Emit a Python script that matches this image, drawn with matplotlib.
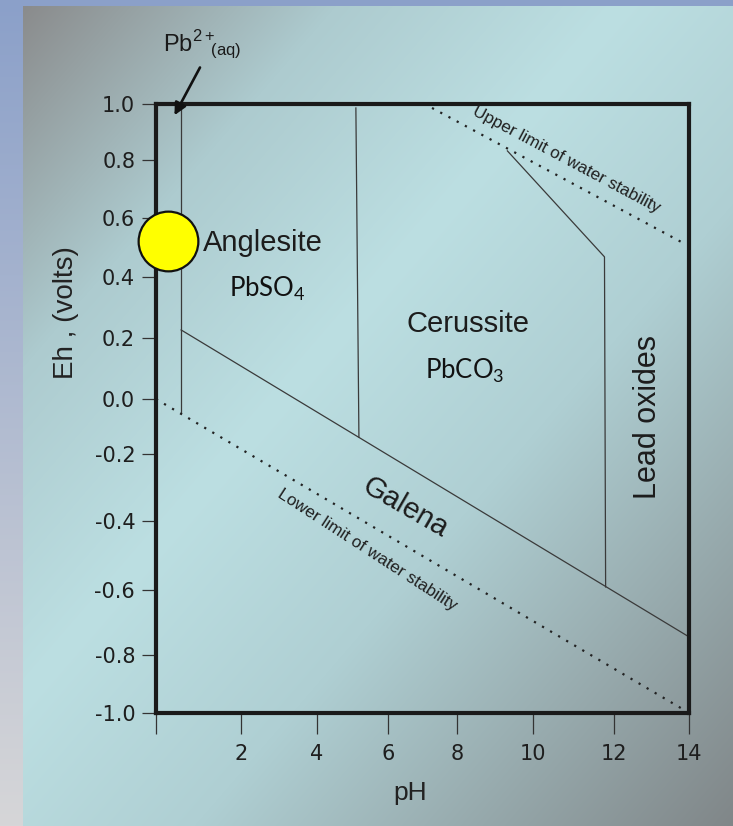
import numpy as np
import matplotlib
matplotlib.use("Agg")
import matplotlib.pyplot as plt

# ---------------- data (pH / Eh) ----------------
ph_tick_pos = [0.0, 2.24, 4.22, 6.09, 7.91, 9.89, 12.02, 14.0]
ph_tick_labels = ["", "2", "4", "6", "8", "10", "12", "14"]
eh_tick_pos = [1.0, 0.816, 0.626, 0.432, 0.232, 0.031, -0.149, -0.369, -0.596, -0.810, -1.0]
eh_tick_labels = ["1.0", "0.8", "0.6", "0.4", "0.2", "0.0", "-0.2", "-0.4", "-0.6", "-0.8", "-1.0"]

pb_anglesite_ph = [0.66, 0.66]
pb_anglesite_eh = [1.0, -0.01]
galena_top_ph = [0.66, 14.0]
galena_top_eh = [0.258, -0.750]
anglesite_cerussite_ph = [5.25, 5.33]
anglesite_cerussite_eh = [0.987, -0.094]
cerussite_oxides_ph = [9.23, 11.78, 11.81]
cerussite_oxides_eh = [0.846, 0.498, -0.586]
upper_water_ph = [7.25, 13.84]
upper_water_eh = [0.987, 0.544]
lower_water_ph = [0.0, 13.79]
lower_water_eh = [0.031, -0.984]

marker_ph, marker_eh = 0.32, 0.55

# ---------------- figure & background ----------------
W, H = 733, 826
fig = plt.figure(figsize=(W / 100, H / 100), dpi=100)

bg = np.zeros((H, W, 3))
yy, xx = np.mgrid[0:H, 0:W]
t = yy / (H - 1)
blue = np.array([0x8b, 0xa0, 0xc9]) / 255
grey = np.array([0xd6, 0xd6, 0xd8]) / 255
bg[:] = blue[None, None, :] * (1 - t[..., None]) + grey[None, None, :] * t[..., None]
px0, py0 = 23, 6
u = ((xx - px0) / (W - px0) + (yy - py0) / (H - py0)) / 2
stops_u = [0.0, 0.22, 0.42, 0.62, 1.0]
stops_c = np.array([[0x8a, 0x8b, 0x8c], [0xad, 0xcb, 0xcf], [0xbc, 0xdf, 0xe2],
                    [0xaf, 0xcf, 0xd3], [0x80, 0x86, 0x88]]) / 255
panel = np.stack([np.interp(u, stops_u, stops_c[:, k]) for k in range(3)], axis=-1)
mask = (xx >= px0) & (yy >= py0)
bg[mask] = panel[mask]
bax = fig.add_axes([0, 0, 1, 1], zorder=-10)
bax.imshow(bg, aspect="auto", interpolation="bilinear")
bax.axis("off")

# ---------------- main axes ----------------
left, right, top, bottom = 156, 689, 104, 713
ax = fig.add_axes([left / W, 1 - bottom / H, (right - left) / W, (bottom - top) / H])
ax.set_facecolor("none")
ax.set_xlim(0, 14)
ax.set_ylim(-1, 1)
for s in ax.spines.values():
    s.set_linewidth(3)
    s.set_color("#1a1a1a")

tickfont = dict(family="DejaVu Sans", size=15, color="#1e1e1e")
ax.set_xticks(ph_tick_pos)
ax.set_xticklabels(ph_tick_labels, **tickfont)
ax.set_yticks(eh_tick_pos)
ax.set_yticklabels(eh_tick_labels, **tickfont)
ax.tick_params(axis="x", direction="out", length=15, width=0.9, color="#333", pad=7)
ax.tick_params(axis="y", direction="out", length=10, width=0.9, color="#333", pad=5)

ax.set_xlabel("pH", family="Liberation Sans", fontsize=19, color="#222")
ax.xaxis.set_label_coords(0.477, -0.112)
ax.set_ylabel("Eh , (volts)", family="Liberation Sans", fontsize=20, color="#222")
ax.yaxis.set_label_coords(-0.145, 0.658)

lc = "#3a3a3a"
ax.plot(pb_anglesite_ph, pb_anglesite_eh, color=lc, lw=0.9)
ax.plot(galena_top_ph, galena_top_eh, color=lc, lw=0.9)
ax.plot(anglesite_cerussite_ph, anglesite_cerussite_eh, color=lc, lw=0.9)
ax.plot(cerussite_oxides_ph, cerussite_oxides_eh, color=lc, lw=0.9)
ax.plot(upper_water_ph, upper_water_eh, color="#222", lw=1.6, linestyle=(0, (1, 3.2)))
ax.plot(lower_water_ph, lower_water_eh, color="#222", lw=1.6, linestyle=(0, (1, 3.2)))

ax.plot([marker_ph], [marker_eh], marker="o", markersize=43, markerfacecolor="#ffff00",
        markeredgecolor="#111", markeredgewidth=1.6, clip_on=False, zorder=5)

big = dict(family="Liberation Sans", fontsize=21, color="#1c1c1c")
cal = dict(family="Lato", fontsize=18.5, color="#111")
ax.text(1.24, 0.543, "Anglesite", ha="left", va="center", **big)
ax.text(1.92, 0.369, r"PbSO$_{\mathregular{4}}$", ha="left", va="baseline", **cal)
ax.text(6.59, 0.251, "Cerussite", ha="left", va="baseline", **big)
ax.text(7.07, 0.097, r"PbCO$_{\mathregular{3}}$", ha="left", va="baseline", **cal)
ax.text(12.92, -0.028, "Lead oxides", ha="center", va="center", rotation=90,
        family="Liberation Sans", fontsize=22, color="#1c1c1c")
ax.text(6.54, -0.327, "Galena", ha="center", va="center", rotation=-30,
        rotation_mode="anchor", **big)
ax.text(10.78, 0.818, "Upper limit of water stability", ha="center", va="center",
        rotation=-28, rotation_mode="anchor", family="Liberation Sans", fontsize=12.3, color="#1f1f1f")
ax.text(5.56, -0.465, "Lower limit of water stability", ha="center", va="center",
        rotation=-33, rotation_mode="anchor", family="Liberation Sans", fontsize=12.3, color="#1f1f1f")

ax.text(0.18, 1.171, r"Pb$^{\mathregular{2+}}\!\!{}_{\mathregular{(aq)}}$", ha="left", va="baseline",
        family="Liberation Sans", fontsize=17, color="#1a1a1a", clip_on=False)
ax.annotate("", xy=(0.45, 0.955), xytext=(1.19, 1.128),
            arrowprops=dict(arrowstyle="-|>", color="#111", lw=1.9, mutation_scale=18),
            annotation_clip=False)

fig.savefig("out.png", dpi=100)
